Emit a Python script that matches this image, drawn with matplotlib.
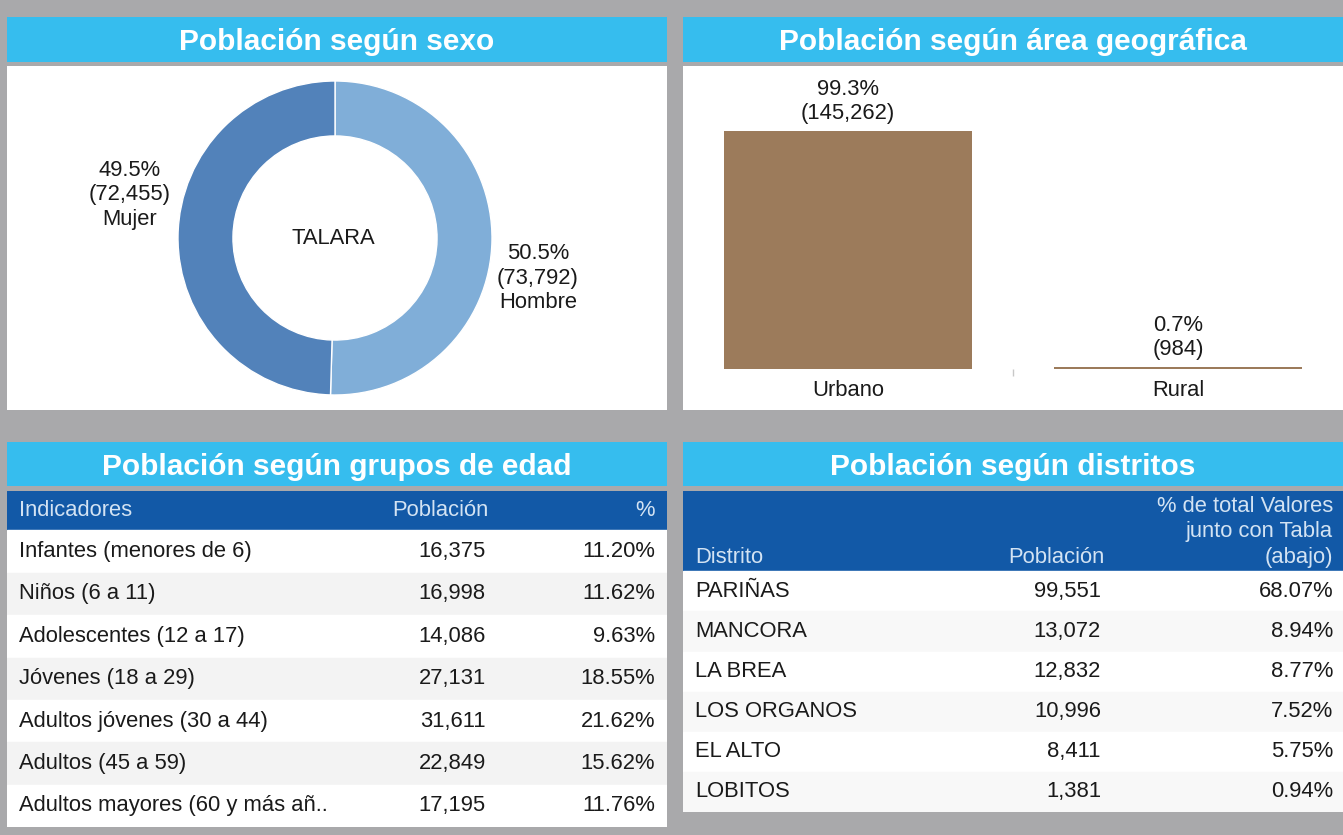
import matplotlib.pyplot as plt
from matplotlib.patches import Rectangle

plt.rcParams['font.family'] = ['Liberation Sans', 'DejaVu Sans']

# --- data ---
sexo_labels = ['Hombre', 'Mujer']
sexo_values = [73792, 72455]

area_labels = ['Urbano', 'Rural']
area_values = [145262, 984]

edad_groups = ['Infantes (menores de 6)', 'Niños (6 a 11)', 'Adolescentes (12 a 17)',
               'Jóvenes (18 a 29)', 'Adultos jóvenes (30 a 44)', 'Adultos (45 a 59)',
               'Adultos mayores (60 y más añ..']
edad_pob = [16375, 16998, 14086, 27131, 31611, 22849, 17195]
edad_pct = [11.20, 11.62, 9.63, 18.55, 21.62, 15.62, 11.76]

distritos = ['PARIÑAS', 'MANCORA', 'LA BREA', 'LOS ORGANOS', 'EL ALTO', 'LOBITOS']
distrito_pob = [99551, 13072, 12832, 10996, 8411, 1381]
distrito_pct = [68.07, 8.94, 8.77, 7.52, 5.75, 0.94]

W, H = 1343, 835
BG = '#a9a9ab'
TITLE_BG = '#36bdee'
HEAD_BG = '#1259a7'
HEAD_FG = '#d3e3f3'
TXT = '#1a1a1a'
FS = 15.8

fig = plt.figure(figsize=(W / 100, H / 100), dpi=100)
fig.patch.set_facecolor(BG)


def box(x0, y0, x1, y1):
    # pixel box (top-left origin) -> figure fraction rect
    return [x0 / W, 1 - y1 / H, (x1 - x0) / W, (y1 - y0) / H]


def rect(x0, y0, x1, y1, color):
    b = box(x0, y0, x1, y1)
    fig.patches.append(Rectangle((b[0], b[1]), b[2], b[3], transform=fig.transFigure,
                                 facecolor=color, edgecolor='none', zorder=-5))


def title(x0, y0, x1, y1, text):
    rect(x0, y0, x1, y1, TITLE_BG)
    fig.text((x0 + x1) / 2 / W, 1 - (y0 + y1) / 2 / H, text, color='white',
             fontsize=21.5, fontweight='bold', ha='center', va='center_baseline')


# panels
title(7, 17, 667, 62, 'Población según sexo')
rect(7, 66, 667, 410, 'white')
title(683, 17, 1343, 62, 'Población según área geográfica')
rect(683, 66, 1343, 410, 'white')
title(7, 442, 667, 486, 'Población según grupos de edad')
title(683, 442, 1343, 486, 'Población según distritos')

# --- donut ---
ax = fig.add_axes(box(7, 66, 667, 410))
R = 157
cx, cy = 335, 238
wedges, _ = ax.pie(sexo_values, startangle=90, counterclock=False, radius=1,
                   colors=['#80aed8', '#5282ba'],
                   wedgeprops=dict(width=0.35, edgecolor='white', linewidth=1))
ax.set_xlim((7 - cx) / R, (667 - cx) / R)
ax.set_ylim((cy - 410) / R, (cy - 66) / R)
ax.set_aspect('auto')
ax.axis('off')
tot = sum(sexo_values)
lab_pos = {'Hombre': (1.293, -0.255), 'Mujer': (-1.306, 0.274)}
for lab, v in zip(sexo_labels, sexo_values):
    ax.text(*lab_pos[lab], f'{v / tot * 100:.1f}%\n({v:,})\n{lab}', ha='center', va='center',
            fontsize=FS, color=TXT, linespacing=1.2)
ax.text(-0.01, 0, 'TALARA', ha='center', va='center', fontsize=FS, color=TXT)

# --- bars ---
ax = fig.add_axes(box(683, 66, 1343, 369))
ax.set_facecolor('none')
bars = ax.bar(range(len(area_labels)), area_values, width=0.75, color='#9c7b5b')
ax.set_xlim(-0.5, 1.5)
ax.set_ylim(0, 145262 * 303 / 238)
tot = sum(area_values)
for b, v in zip(bars, area_values):
    ax.annotate(f'{v / tot * 100:.1f}%\n({v:,})', (b.get_x() + b.get_width() / 2, v),
                xytext=(0, 5), textcoords='offset points', ha='center', va='bottom',
                fontsize=FS, color=TXT, linespacing=1.2)
ax.set_xticks(range(len(area_labels)))
ax.set_xticklabels(area_labels, fontsize=FS, color=TXT)
ax.tick_params(axis='x', length=0, pad=8)
ax.set_xticks([0.5], minor=True)
ax.tick_params(axis='x', which='minor', length=5, color='#c8c8c8', width=1)
ax.set_yticks([])
for s in ax.spines.values():
    s.set_visible(False)

# --- table: grupos de edad ---
ax = fig.add_axes(box(7, 491, 667, 827))
n = len(edad_groups)
row_h = 43
head_h = 40
hy = -head_h / row_h
ax.set_xlim(7, 667)
ax.set_ylim(n, hy)
ax.axis('off')
ax.axhspan(hy, 0, color=HEAD_BG)
ax.text(19, hy / 2, 'Indicadores', ha='left', va='center', fontsize=FS, color=HEAD_FG)
ax.text(488, hy / 2, 'Población', ha='right', va='center', fontsize=FS, color=HEAD_FG)
ax.text(655, hy / 2, '%', ha='right', va='center', fontsize=FS, color=HEAD_FG)
for i, (g, p, pc) in enumerate(zip(edad_groups, edad_pob, edad_pct)):
    ax.axhspan(i, i + 1, color='white' if i % 2 == 0 else '#f3f3f3')
    yc = i + 0.5
    ax.text(19, yc, g, ha='left', va='center', fontsize=FS, color=TXT)
    ax.text(486, yc, f'{p:,}', ha='right', va='center', fontsize=FS, color=TXT)
    ax.text(655, yc, f'{pc:.2f}%', ha='right', va='center', fontsize=FS, color=TXT)

# --- table: distritos ---
ax = fig.add_axes(box(683, 491, 1343, 812))
n = len(distritos)
row_h = 40
head_h = 80
hy = -head_h / row_h
ax.set_xlim(683, 1343)
ax.set_ylim(n, hy)
ax.axis('off')
ax.axhspan(hy, 0, color=HEAD_BG)
ax.text(695, -0.35, 'Distrito', ha='left', va='center', fontsize=FS, color=HEAD_FG)
ax.text(1104, -0.35, 'Población', ha='right', va='center', fontsize=FS, color=HEAD_FG)
ax.text(1333, -0.35, '(abajo)', ha='right', va='center', fontsize=FS, color=HEAD_FG)
ax.text(1333, -0.98, 'junto con Tabla', ha='right', va='center', fontsize=FS, color=HEAD_FG)
ax.text(1333, -1.62, '% de total Valores', ha='right', va='center', fontsize=FS, color=HEAD_FG)
for i, (d, p, pc) in enumerate(zip(distritos, distrito_pob, distrito_pct)):
    ax.axhspan(i, i + 1, color='white' if i % 2 == 0 else '#f8f8f8')
    yc = i + 0.5
    ax.text(695, yc, d, ha='left', va='center', fontsize=FS, color=TXT)
    ax.text(1101, yc, f'{p:,}', ha='right', va='center', fontsize=FS, color=TXT)
    ax.text(1333, yc, f'{pc:.2f}%', ha='right', va='center', fontsize=FS, color=TXT)

fig.savefig('out.png', dpi=100, facecolor=BG)
